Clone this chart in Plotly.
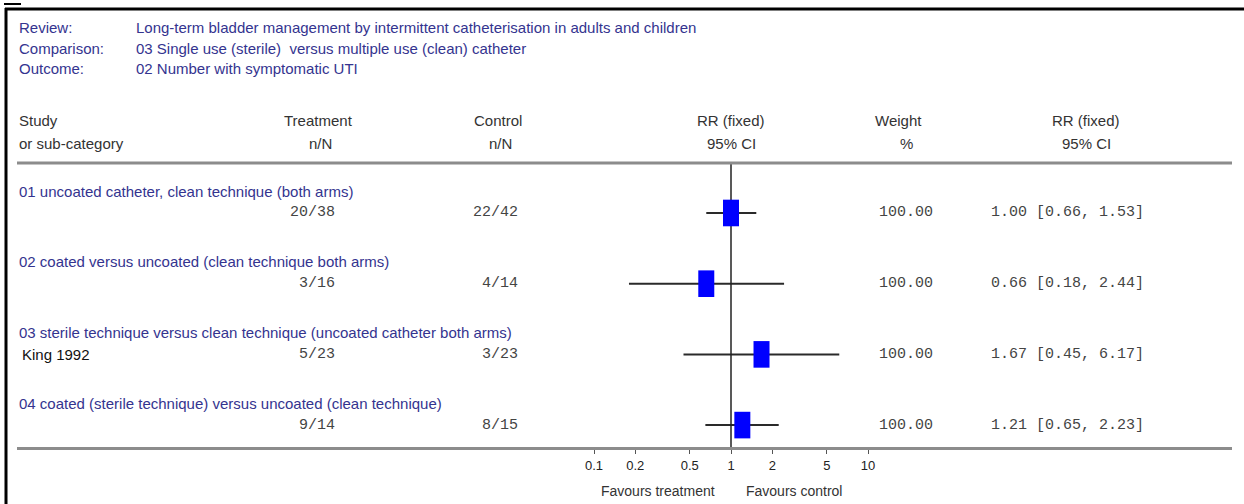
import plotly.graph_objects as go

# ---------------- data ----------------
header_labels = ["Review:", "Comparison:", "Outcome:"]
header_values = [
    "Long-term bladder management by intermittent catheterisation in adults and children",
    "03 Single use (sterile)  versus multiple use (clean) catheter",
    "02 Number with symptomatic UTI",
]
subgroups = [
    "01 uncoated catheter, clean technique (both arms)",
    "02 coated versus uncoated (clean technique both arms)",
    "03 sterile technique versus clean technique (uncoated catheter both arms)",
    "04 coated (sterile technique) versus uncoated (clean technique)",
]
studies = ["", "", "King 1992", ""]
treatment = ["20/38", "3/16", "5/23", "9/14"]
control = ["22/42", "4/14", "3/23", "8/15"]
rr = [1.00, 0.66, 1.67, 1.21]
ci_low = [0.66, 0.18, 0.45, 0.65]
ci_high = [1.53, 2.44, 6.17, 2.23]
weight = [100.00, 100.00, 100.00, 100.00]
tick_vals = [0.1, 0.2, 0.5, 1, 2, 5, 10]
tick_text = ["0.1", "0.2", "0.5", "1", "2", "5", "10"]

# ---------------- layout helpers ----------------
W, H = 1244, 504
def px(x):
    return x / W
def py(y):
    return 1 - y / H

NAVY = "#34348f"
DARK = "#333333"
SANS = "Liberation Sans, Arial, sans-serif"
MONO = "Liberation Mono, Courier New, monospace"
SANS_SIZE = 15
MONO_SIZE = 15

rows = list(range(len(rr)))
y_top, y_bot = -0.707, 3.31

fig = go.Figure()

# confidence interval lines
ci_x, ci_y = [], []
for i in rows:
    ci_x += [ci_low[i], ci_high[i], None]
    ci_y += [i, i, None]
fig.add_trace(go.Scatter(x=ci_x, y=ci_y, mode="lines",
                         line=dict(color="#2a2a2a", width=2),
                         hoverinfo="skip", showlegend=False))
# line of no effect
fig.add_trace(go.Scatter(x=[1, 1], y=[y_top, y_bot], mode="lines",
                         line=dict(color="#222222", width=1.5),
                         hoverinfo="skip", showlegend=False))
# point estimates (blue boxes)
fig.add_trace(go.Scatter(x=rr, y=rows, mode="markers",
                         marker=dict(symbol="line-ns-open", size=19, color="#0000ff",
                                     line=dict(color="#0000ff", width=16)),
                         showlegend=False))

ann = []
def add(text, x, y, xanchor="left", font=SANS, size=SANS_SIZE, color=DARK, yref="paper"):
    ann.append(dict(text=text, x=x, y=y, xref="paper", yref=yref,
                    xanchor=xanchor, yanchor="middle", showarrow=False,
                    font=dict(family=font, size=size, color=color)))

# header block
for k, (lab, val) in enumerate(zip(header_labels, header_values)):
    yy = py(27 + 21 * k)
    add(lab, px(17), yy, color=NAVY)
    add(val, px(134), yy, color=NAVY)

# column headings
add("Study", px(17), py(120))
add("or sub-category", px(17), py(143))
for cx1, cx2, t1, t2 in [(318, 320, "Treatment", "n/N"), (498, 500, "Control", "n/N"),
                         (731, 731, "RR (fixed)", "95% CI"), (898, 906, "Weight", "%"),
                         (1086, 1086, "RR (fixed)", "95% CI")]:
    add(t1, px(cx1), py(120), xanchor="center")
    add(t2, px(cx2), py(143), xanchor="center")

# rows
for i in rows:
    add(subgroups[i], px(17), i - 0.31, yref="y", color=NAVY)
    if studies[i]:
        add(studies[i], px(20), i, yref="y", color="#111111")
    add(treatment[i], px(337), i, xanchor="right", font=MONO, size=MONO_SIZE, yref="y", color="#444444")
    add(control[i], px(520), i, xanchor="right", font=MONO, size=MONO_SIZE, yref="y", color="#444444")
    add(f"{weight[i]:.2f}", px(935), i, xanchor="right", font=MONO, size=MONO_SIZE, yref="y", color="#444444")
    add(f"{rr[i]:.2f} [{ci_low[i]:.2f}, {ci_high[i]:.2f}]", px(989), i,
        font=MONO, size=MONO_SIZE, yref="y", color="#444444")

add("Favours treatment", px(658), py(491), xanchor="center", size=14)
add("Favours control", px(794), py(491), xanchor="center", size=14)

shapes = [
    # header separator
    dict(type="line", xref="paper", yref="paper", x0=px(17), x1=px(1232),
         y0=py(163), y1=py(163), line=dict(color="#8c8c8c", width=3)),
    # frame
    dict(type="line", xref="paper", yref="paper", x0=px(5), x1=1,
         y0=py(9), y1=py(9), line=dict(color="#000000", width=3)),
    dict(type="line", xref="paper", yref="paper", x0=px(6), x1=px(6),
         y0=py(8), y1=0, line=dict(color="#000000", width=3)),
    dict(type="line", xref="paper", yref="paper", x0=px(4), x1=px(21),
         y0=py(4), y1=py(4), line=dict(color="#000000", width=2)),
]

fig.update_layout(
    width=W, height=H,
    margin=dict(l=0, r=0, t=0, b=0),
    paper_bgcolor="white", plot_bgcolor="white",
    annotations=ann, shapes=shapes,
    xaxis=dict(type="log", domain=[px(17), px(1232)],
               range=[-1 - (594 - 17) / 137, 1 + (1232 - 868) / 137],
               tickvals=tick_vals, ticktext=tick_text,
               ticks="outside", ticklen=4, tickcolor="#555555", tickwidth=1,
               showline=True, linecolor="#8c8c8c", linewidth=3,
               showgrid=False, zeroline=False,
               tickfont=dict(family=SANS, size=13, color="#222222")),
    yaxis=dict(domain=[py(447), py(163)], range=[y_bot, y_top],
               visible=False, showgrid=False, zeroline=False),
)

fig.write_html("out.html", config={"displayModeBar": False},
               post_script="document.body.style.margin='0';document.body.style.padding='0';")
